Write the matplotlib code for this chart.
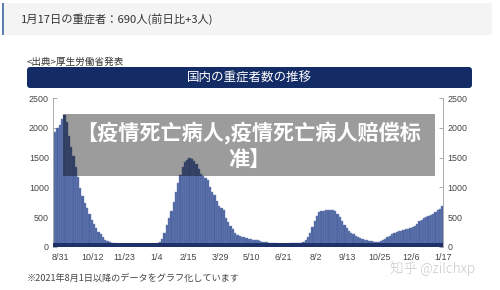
import matplotlib
matplotlib.use("Agg")
import matplotlib.pyplot as plt
import matplotlib.patches as mpatches
import numpy as np
import pandas as pd

# severe cases, one value every 3 days from 2021-08-21
start_date = "2021-08-21"
end_date = "2023-01-17"
severe = [
    1880, 1930, 1990, 2040, 2150, 2215, 2100, 1870, 1680, 1520,
    1350, 1170, 990, 850, 740, 650, 550, 460, 390, 320,
    260, 210, 165, 125, 100, 85, 72, 60, 50, 43,
    37, 32, 28, 25, 23, 21, 20, 20, 22, 25,
    27, 29, 30, 35, 42, 50,
    60, 78, 140, 240, 370, 490, 610, 750, 920, 1080,
    1210, 1350, 1430, 1460, 1490, 1480, 1440, 1390, 1310, 1220,
    1190, 1150, 1120, 1000, 930, 870, 780, 690, 650, 620,
    480, 420, 360, 300, 230, 205, 190, 175, 160, 150,
    140, 135, 125, 118, 110, 100, 92, 85, 78, 72,
    68, 64, 60, 57, 55, 54, 55, 58, 62, 70,
    60, 62, 66, 75, 90, 120, 170, 240, 330, 430,
    520, 580, 600, 610, 615, 620, 625, 615, 600, 560,
    500, 430, 370, 320, 275, 240, 210, 180, 160, 145,
    130, 120, 110, 102, 97, 92, 88, 90, 100, 115,
    135, 160, 185, 210, 235, 250, 265, 275, 280, 295,
    310, 320, 335, 360, 390, 430, 460, 490, 510, 525,
    545, 560, 590, 615, 645, 690,
]
tick_labels = ["8/31", "10/12", "11/23", "1/4", "2/15", "3/29", "5/10",
               "6/21", "8/2", "9/13", "10/25", "12/6", "1/17"]
tick_first = "2021-08-31"
y_ticks = [0, 500, 1000, 1500, 2000, 2500]

header = "1月17日の重症者：690人(前日比+3人)"
source = "<出典>厚生労働省発表"
title = "国内の重症者数の推移"
footer = "※2021年8月1日以降のデータをグラフ化しています"
overlay = "【疫情死亡病人,疫情死亡病人赔偿标\n准】"
watermark = "知乎 @zilchxp"

W, H = 500, 290
jp = ["Noto Sans CJK JP", "DejaVu Sans"]
num = ["Liberation Sans", "DejaVu Sans"]


def fx(x):
    return x / W


def fy(y):
    return 1 - y / H


fig = plt.figure(figsize=(W / 100, H / 100), dpi=100)
fig.patch.set_facecolor("white")

# header box
fig.add_artist(mpatches.Rectangle((fx(3), fy(35)), fx(489), 32 / H,
                                  transform=fig.transFigure, color="#f4f4f4", lw=0))
fig.add_artist(mpatches.Rectangle((fx(2), fy(35)), fx(2), 32 / H,
                                  transform=fig.transFigure, color="#5b7fb2", lw=0))
fig.text(fx(21), fy(19.5), header, family=jp, fontsize=8.1, color="#333333",
         va="center", ha="left")

fig.text(fx(27), fy(62), source, family=jp, fontsize=6.9, color="#333333",
         va="center", ha="left")

# title bar
fig.add_artist(mpatches.FancyBboxPatch((fx(27), fy(88)), fx(445), 21 / H,
                                       boxstyle="round,pad=0,rounding_size=0.006",
                                       mutation_aspect=W / H,
                                       transform=fig.transFigure, color="#142c66", lw=0))
fig.text(fx(249), fy(78), title, family=jp, fontsize=9, color="white",
         va="center", ha="center")

# chart
ax = fig.add_axes([fx(53), fy(247), fx(390), 149 / H])
dates = pd.date_range(start_date, periods=len(severe), freq="3D")
ax.bar(dates, severe, width=3, color="#4b63a0", edgecolor="#7386b8",
       linewidth=0.3, zorder=2)
ax.axhspan(0, 60, color="#1f3169", lw=0, zorder=3)

ax.set_xlim(pd.Timestamp(start_date), pd.Timestamp(end_date))
ax.set_ylim(0, 2500)
ticks = pd.date_range(tick_first, periods=len(tick_labels), freq="42D")
ax.set_xticks(ticks)
ax.set_xticklabels(tick_labels)
ax.set_yticks(y_ticks)
ax.tick_params(axis="x", length=0, pad=4, labelsize=6.4, labelcolor="#444444")
ax.tick_params(axis="y", direction="in", length=3, width=0.6, color="#999999",
               pad=3, labelsize=6.4, labelcolor="#444444",
               left=True, right=True, labelleft=True, labelright=True)
for lab in ax.get_xticklabels():
    lab.set_family(num)
for t in ax.yaxis.get_major_ticks():
    t.label1.set_family(num)
    t.label2.set_family(num)
for s in ["top", "bottom"]:
    ax.spines[s].set_visible(False)
for s in ["left", "right"]:
    ax.spines[s].set_color("#aaaaaa")
    ax.spines[s].set_linewidth(0.7)
ax.set_facecolor("white")

fig.text(fx(27), fy(279), footer, family=jp, fontsize=6.6, color="#444444",
         va="center", ha="left")
fig.text(fx(390), fy(269), watermark, family=jp, fontsize=9.8, color="#c9c9c9",
         va="center", ha="left", fontweight="light")

# overlay
fig.add_artist(mpatches.Rectangle((fx(63), fy(176)), fx(372), 62 / H,
                                  transform=fig.transFigure, color="black",
                                  alpha=0.39, lw=0, zorder=5))
fig.text(fx(249), fy(145.5), overlay, family=["Noto Sans CJK SC", "DejaVu Sans"],
         fontsize=15.2, fontweight="bold", color="white", va="center",
         ha="center", linespacing=1.25, zorder=6)

fig.savefig("out.png", dpi=100)
